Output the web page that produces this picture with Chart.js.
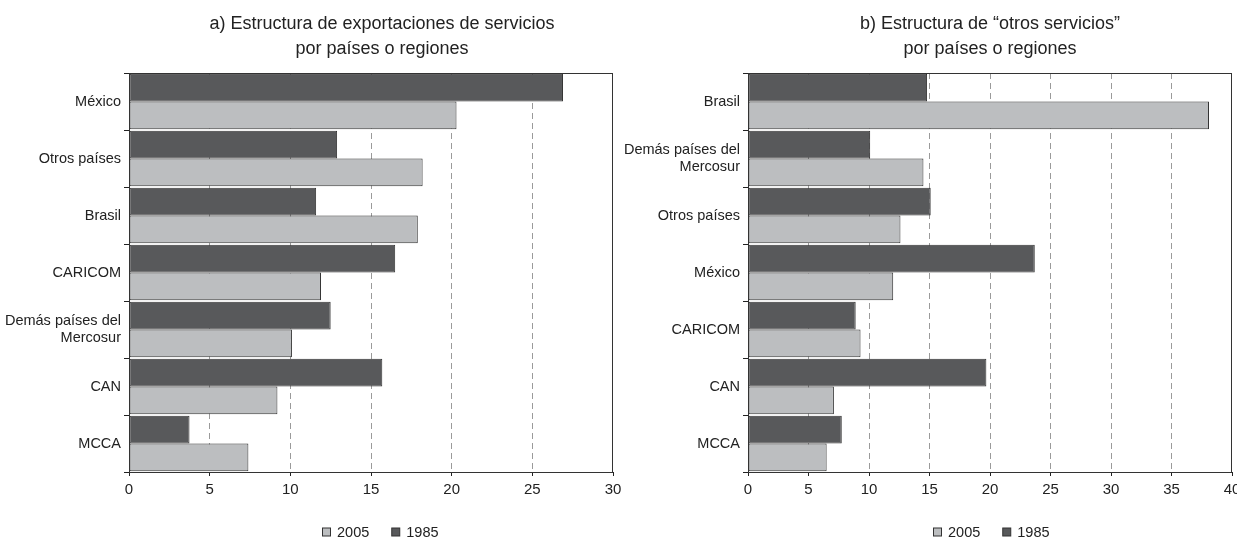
<!DOCTYPE html>
<html>
<head>
<meta charset="utf-8">
<script src="https://cdn.jsdelivr.net/npm/chart.js@4"></script>
<style>
  html, body { margin:0; padding:0; background:#fff; overflow:hidden; }
  body { width:1237px; height:538px; position:relative; }
  canvas { position:absolute; top:0; }
  #chartA { left:0; }
  #chartB { left:618px; }
</style>
</head>
<body>
<canvas id="chartA" width="630" height="538"></canvas>
<canvas id="chartB" width="631" height="538"></canvas>
<script>
// data
const seriesNames = ['1985', '2005'];

const titleA = ['a) Estructura de exportaciones de servicios', 'por países o regiones'];
const categoriesA = ['México', 'Otros países', 'Brasil', 'CARICOM', ['Demás países del', 'Mercosur'], 'CAN', 'MCCA'];
const exportA1985 = [26.9, 12.9, 11.6, 16.5, 12.5, 15.7, 3.75];
const exportA2005 = [20.3, 18.2, 17.9, 11.9, 10.1, 9.2, 7.4];
const ticksA = [0, 5, 10, 15, 20, 25, 30];

const titleB = ['b) Estructura de \u201cotros servicios\u201d', 'por países o regiones'];
const categoriesB = ['Brasil', ['Demás países del', 'Mercosur'], 'Otros países', 'México', 'CARICOM', 'CAN', 'MCCA'];
const otrosB1985 = [14.8, 10.1, 15.1, 23.7, 8.9, 19.7, 7.75];
const otrosB2005 = [38.1, 14.5, 12.6, 12.0, 9.3, 7.1, 6.5];
const ticksB = [0, 5, 10, 15, 20, 25, 30, 35, 40];

const DARK = '#58595b', LIGHT = '#bcbec0', EDGE = '#333';
const FONT = "'Liberation Sans', Arial, sans-serif";
Chart.defaults.font.family = FONT;
Chart.defaults.color = '#222';

// titles, frame and legend drawn around the plot area
const decor = {
  id: 'decor',
  afterDatasetsDraw(chart, args, opts) {
    const {ctx, chartArea: a} = chart;
    ctx.save();
    ctx.strokeStyle = '#333';
    ctx.lineWidth = 1;
    ctx.strokeRect(Math.round(a.left) + 0.5, Math.round(a.top) + 0.5,
                   Math.round(a.right - a.left) - 1, Math.round(a.bottom - a.top));
    ctx.restore();
  },
  afterDraw(chart, args, opts) {
    const {ctx} = chart;
    ctx.save();
    ctx.fillStyle = '#222';
    ctx.textAlign = 'center';
    ctx.textBaseline = 'middle';
    ctx.font = '18px ' + FONT;
    opts.title.forEach((t, i) => ctx.fillText(t, opts.titleX, 24 + i * 25));

    // legend: 2005 first, then 1985
    ctx.font = '14.5px ' + FONT;
    const items = chart.data.datasets.slice().reverse();
    const box = 9, gap = 6, space = 22;
    const widths = items.map(d => box + gap + ctx.measureText(d.label).width);
    const total = widths.reduce((s, w) => s + w, 0) + space * (items.length - 1);
    let x = Math.round(opts.legendX - total / 2);
    const y = 532;
    ctx.textAlign = 'left';
    items.forEach((d, i) => {
      ctx.fillStyle = d.backgroundColor;
      ctx.fillRect(x + 0.5, y - box / 2 + 0.5, box - 1, box - 1);
      ctx.strokeStyle = EDGE;
      ctx.strokeRect(x + 0.5, y - box / 2 + 0.5, box - 1, box - 1);
      ctx.fillStyle = '#222';
      ctx.fillText(d.label, x + box + gap, y + 1);
      x += widths[i] + space;
    });
    ctx.restore();
  }
};

function makeChart(id, categories, v1985, v2005, ticks, axisWidth, title, titleX, legendX) {
  const max = ticks[ticks.length - 1];
  new Chart(document.getElementById(id), {
    type: 'bar',
    data: {
      labels: categories,
      datasets: [
        { label: seriesNames[0], data: v1985, backgroundColor: DARK },
        { label: seriesNames[1], data: v2005, backgroundColor: LIGHT }
      ]
    },
    options: {
      indexAxis: 'y',
      responsive: false,
      animation: false,
      layout: { padding: { top: 73, right: 17, bottom: 0, left: 0 } },
      datasets: {
        bar: { borderColor: EDGE, borderWidth: 1, borderSkipped: false,
               categoryPercentage: 0.97, barPercentage: 1.0 }
      },
      scales: {
        x: {
          min: 0, max: max,
          afterFit: s => { s.height = 66; },
          afterBuildTicks: s => { s.ticks = ticks.map(v => ({ value: v })); },
          ticks: { font: { size: 15 }, padding: 5, maxRotation: 0 },
          grid: {
            color: c => (c.tick && (c.tick.value === 0 || c.tick.value === max)) ? 'rgba(0,0,0,0)' : '#9a9a9a',
            tickColor: '#222', tickLength: 4, lineWidth: 1
          },
          border: { display: true, color: '#222', dash: [6, 4] }
        },
        y: {
          afterFit: s => { s.width = axisWidth; },
          ticks: { font: { size: 14.5, lineHeight: 1.15 }, padding: 3 },
          grid: { offset: true, drawOnChartArea: false, tickColor: '#222', tickLength: 5 },
          border: { display: true, color: '#222' }
        }
      },
      plugins: {
        legend: { display: false },
        tooltip: { enabled: false },
        decor: { title: title, titleX: titleX, legendX: legendX }
      }
    },
    plugins: [decor]
  });
}

makeChart('chartA', categoriesA, exportA1985, exportA2005, ticksA, 129, titleA, 382, 380);
makeChart('chartB', categoriesB, otrosB1985, otrosB2005, ticksB, 130, titleB, 372, 373);
</script>
</body>
</html>
